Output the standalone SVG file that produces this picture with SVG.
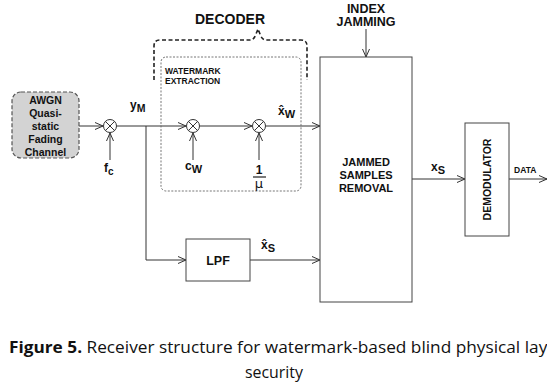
<svg xmlns="http://www.w3.org/2000/svg" width="547" height="387" viewBox="0 0 547 387">
<style>
.ln{stroke:#333;stroke-width:1;fill:none}
.b{font-family:"Liberation Sans",Arial,sans-serif;font-weight:bold;fill:#111}
.box{fill:#fff;stroke:#444;stroke-width:1}
.mul{fill:#fff;stroke:#333;stroke-width:1}
</style>
<defs>
<marker id="ah" markerWidth="10" markerHeight="10" refX="9" refY="5" orient="auto" markerUnits="userSpaceOnUse">
<path d="M1,1.5 L9,5 L1,8.5" fill="none" stroke="#333" stroke-width="1"/>
</marker>
<g id="x"><circle r="6.5" class="mul"/><path d="M-4.6,-4.6 L4.6,4.6 M-4.6,4.6 L4.6,-4.6" stroke="#333" stroke-width="1"/></g>
</defs>
<rect width="547" height="387" fill="#fff"/>

<g id="connectors">
<line class="ln" x1="79" y1="126" x2="103" y2="126" marker-end="url(#ah)"/>
<line class="ln" x1="110" y1="160" x2="110" y2="133" marker-end="url(#ah)"/>
<line class="ln" x1="117" y1="126" x2="186" y2="126" marker-end="url(#ah)"/>
<line class="ln" x1="193" y1="160" x2="193" y2="133" marker-end="url(#ah)"/>
<line class="ln" x1="200" y1="126" x2="252" y2="126" marker-end="url(#ah)"/>
<line class="ln" x1="259" y1="160" x2="259" y2="133" marker-end="url(#ah)"/>
<line class="ln" x1="266" y1="126" x2="320" y2="126" marker-end="url(#ah)"/>
<polyline class="ln" points="146,126 146,260 186,260" marker-end="url(#ah)"/>
<line class="ln" x1="250" y1="260" x2="320" y2="260" marker-end="url(#ah)"/>
<line class="ln" x1="366" y1="29" x2="366" y2="57" marker-end="url(#ah)"/>
<line class="ln" x1="412" y1="179" x2="465" y2="179" marker-end="url(#ah)"/>
<line class="ln" x1="509" y1="179" x2="547" y2="179" marker-end="url(#ah)"/>
</g>

<g id="channel">
<rect x="12" y="92" width="67" height="66" rx="9" fill="#d3d3d3" stroke="#555" stroke-width="1.2" stroke-dasharray="4,2"/>
<text class="b" font-size="10.5" text-anchor="middle"><tspan x="45.5" y="104">AWGN</tspan><tspan x="45.5" y="117">Quasi-</tspan><tspan x="45.5" y="130">static</tspan><tspan x="45.5" y="143">Fading</tspan><tspan x="45.5" y="156">Channel</tspan></text>
</g>

<g id="mult1"><use href="#x" x="110" y="126"/>
<text class="b" font-size="12" x="104" y="172">f<tspan font-size="10" dy="3">c</tspan></text>
<text class="b" font-size="12" x="130" y="109">y<tspan font-size="10.5" dy="3">M</tspan></text>
</g>

<g id="decoder">
<path d="M154,80 V46 Q154,40 160,40 H250 Q254,40 256,34 L258,29 L260,34 Q262,40 266,40 H301 Q307,40 307,46 V80" fill="none" stroke="#222" stroke-width="1.6" stroke-dasharray="4,2.5"/>
<text class="b" font-size="14" x="230" y="24" text-anchor="middle">DECODER</text>
</g>

<g id="watermark-extraction">
<rect x="161" y="57" width="140" height="134" rx="5" fill="none" stroke="#666" stroke-width="0.9" stroke-dasharray="2,1.5"/>
<text class="b" font-size="8.5" x="165" y="74">WATERMARK</text>
<text class="b" font-size="8.5" x="165" y="84">EXTRACTION</text>
</g>

<g id="mult2"><use href="#x" x="193" y="126"/>
<text class="b" font-size="12" x="185" y="170">c<tspan font-size="11" dy="3">W</tspan></text>
</g>

<g id="mult3"><use href="#x" x="259" y="126"/>
<text class="b" font-size="12" x="259" y="174" text-anchor="middle">1</text>
<line x1="253" y1="177" x2="266" y2="177" stroke="#222" stroke-width="1.2"/>
<text x="259" y="188" text-anchor="middle" font-family="DejaVu Sans,sans-serif" font-size="13" fill="#111">μ</text>
<text class="b" font-size="12" x="278" y="115">x̂<tspan font-size="11" dy="3">W</tspan></text>
</g>

<g id="jammed">
<rect class="box" x="320" y="57" width="92" height="245"/>
<text class="b" font-size="11" text-anchor="middle"><tspan x="366" y="166">JAMMED</tspan><tspan x="366" y="179">SAMPLES</tspan><tspan x="366" y="192">REMOVAL</tspan></text>
<text class="b" font-size="12.5" text-anchor="middle"><tspan x="366" y="13">INDEX</tspan><tspan x="366" y="26">JAMMING</tspan></text>
<text class="b" font-size="12" x="431" y="171">x<tspan font-size="11" dy="3">S</tspan></text>
</g>

<g id="lpf">
<rect class="box" x="186" y="239" width="64" height="42"/>
<text class="b" font-size="12.5" x="218" y="265" text-anchor="middle">LPF</text>
<text class="b" font-size="12" x="261" y="249">x̂<tspan font-size="11" dy="3">S</tspan></text>
</g>

<g id="demodulator">
<rect class="box" x="465" y="123" width="44" height="113"/>
<text class="b" font-size="10.5" text-anchor="middle" transform="translate(491,179.5) rotate(-90)">DEMODULATOR</text>
<text class="b" font-size="8.5" x="514" y="173">DATA</text>
</g>

<g id="caption" font-family="Open Sans,'DejaVu Sans',sans-serif" font-size="16" fill="#111">
<text x="9" y="353" textLength="555" lengthAdjust="spacingAndGlyphs"><tspan font-weight="bold">Figure 5.</tspan> Receiver structure for watermark-based blind physical layer</text>
<text x="274" y="378" text-anchor="middle" textLength="58" lengthAdjust="spacingAndGlyphs">security</text>
</g>
</svg>
